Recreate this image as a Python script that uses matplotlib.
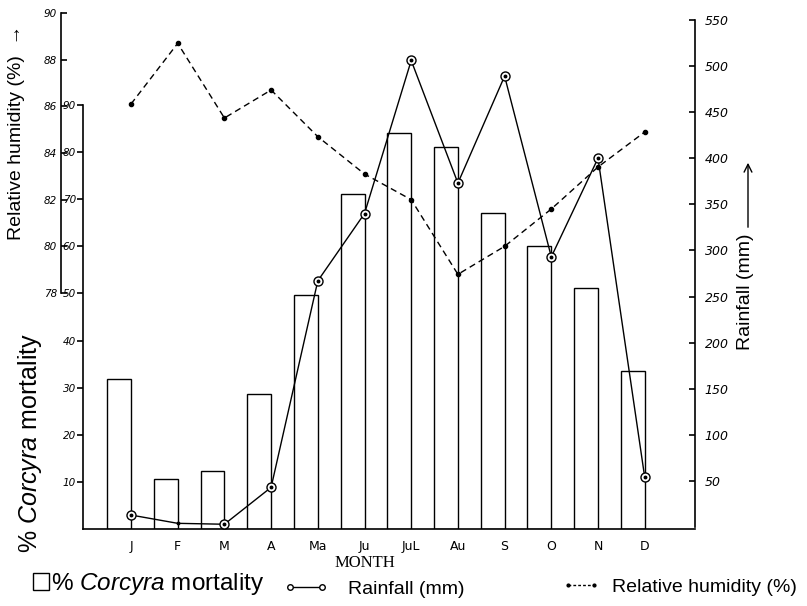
import matplotlib
matplotlib.use('Agg')
import matplotlib.pyplot as plt
from matplotlib.patches import Patch
from matplotlib.lines import Line2D
import numpy as np

# ---------------- data ----------------
months = ['J', 'F', 'M', 'A', 'Ma', 'Ju', 'JuL', 'Au', 'S', 'O', 'N', 'D']
mortality = [31.8, 10.6, 12.3, 28.7, 49.7, 71.1, 84.1, 81.1, 67.1, 60.1, 51.2, 33.5]
rainfall = [13, 4, 3, 43, 267, 340, 506, 373, 489, 293, 400, 54]
humidity = [86.1, 88.7, 85.5, 86.7, 84.7, 83.1, 82.0, 78.8, 80.0, 81.6, 83.4, 84.9]

mort_ticks = [10, 20, 30, 40, 50, 60, 70, 80, 90]
rain_ticks = [50, 100, 150, 200, 250, 300, 350, 400, 450, 500, 550]
rh_ticks = [78, 80, 82, 84, 86, 88, 90]

plt.rcParams['font.family'] = ['Liberation Sans', 'DejaVu Sans']
plt.rcParams['mathtext.fontset'] = 'custom'
plt.rcParams['mathtext.rm'] = 'Liberation Sans'
plt.rcParams['mathtext.it'] = 'Liberation Sans:italic'

W, H = 807, 606
fig = plt.figure(figsize=(W / 100, H / 100), dpi=100)


def fx(px):
    return px / W


def fy(py):
    return 1 - py / H


hand = dict(family='DejaVu Sans', style='italic')

# main axes : mortality bars
ax = fig.add_axes([fx(83), fy(529), (695 - 83) / W, (529 - 13) / H])
x = np.arange(len(months))
ax.bar(x, mortality, width=-0.51, align='edge', facecolor='white',
       edgecolor='black', linewidth=1.0, zorder=2)
ax.set_xlim(-1.028, 12.077)
ax.set_ylim(0, 109.53)
for s in ['top', 'right']:
    ax.spines[s].set_visible(False)
ax.spines['left'].set_bounds(0, 90)
ax.spines['left'].set_linewidth(1.2)
ax.spines['bottom'].set_linewidth(1.2)
ax.set_yticks(mort_ticks)
ax.set_yticklabels([str(v) for v in mort_ticks], fontsize=7.5, **hand)
ax.tick_params(axis='y', direction='out', length=4, width=1.2, pad=1)
ax.set_xticks(x)
ax.set_xticklabels(months, fontsize=9, family='DejaVu Sans')
ax.tick_params(axis='x', length=0, pad=8)

# rainfall axis (right)
ax_r = ax.twinx()
ax_r.set_ylim(-2.15, 557.5)
for s in ['top', 'left', 'bottom']:
    ax_r.spines[s].set_visible(False)
ax_r.spines['right'].set_bounds(0, 550)
ax_r.spines['right'].set_linewidth(1.2)
ax_r.set_yticks(rain_ticks)
ax_r.set_yticklabels([str(v) for v in rain_ticks], fontsize=9, **hand)
ax_r.tick_params(axis='y', direction='in', length=4, width=1.2, pad=7)
ax_r.plot(x, rainfall, '-', color='black', lw=1.0, zorder=3)
ax_r.plot(x, rainfall, linestyle='none', marker='o', ms=6.5, mfc='white',
          mec='black', mew=1.0, markevery=[0, 2, 3, 4, 5, 6, 7, 8, 9, 10, 11],
          zorder=4)
ax_r.plot(x, rainfall, linestyle='none', marker='o', ms=1.8, color='black',
          zorder=5)

# relative humidity axis (outer left)
ax_h = ax.twinx()
ax_h.set_ylim(67.886, 90)
for s in ['top', 'right', 'bottom']:
    ax_h.spines[s].set_visible(False)
ax_h.spines['left'].set_visible(True)
ax_h.spines['left'].set_position(('axes', -22 / 612))
ax_h.spines['left'].set_bounds(78, 90)
ax_h.spines['left'].set_linewidth(1.2)
ax_h.yaxis.tick_left()
ax_h.set_yticks(rh_ticks)
ax_h.set_yticklabels([str(v) for v in rh_ticks], fontsize=7.5, **hand)
ax_h.tick_params(axis='y', direction='in', length=4, width=1.2, pad=3)
ax_h.plot(x, humidity, linestyle=(0, (4.5, 3)), color='black', lw=1.0,
          marker='o', ms=3, zorder=3)

# axis titles
fig.text(fx(17), fy(132), 'Relative humidity (%)  \u2192', rotation=90,
         ha='center', va='center', fontsize=14)
fig.text(fx(30), fy(443), '% $\\mathit{Corcyra}$ mortality', rotation=90,
         ha='center', va='center', fontsize=18)
fig.text(fx(745), fy(292), 'Rainfall (mm)', rotation=90,
         ha='center', va='center', fontsize=14)
ax.annotate('', xy=(748, H - 160), xytext=(748, H - 230),
            xycoords='figure pixels', textcoords='figure pixels',
            arrowprops=dict(arrowstyle='->', lw=1.0, color='black',
                            mutation_scale=14))
fig.text(fx(365), fy(563), 'MONTH', ha='center', va='center', fontsize=12,
         family='Liberation Serif')

# legend
fs = 14
em = fs * 100 / 72.0
fs1 = 17.5
em1 = fs1 * 100 / 72.0
h1 = Patch(facecolor='white', edgecolor='black', linewidth=1.0)
leg1 = fig.legend([h1], ['% $\\mathit{Corcyra}$ mortality'], loc='center left',
                  bbox_to_anchor=(fx(33), fy(584)), frameon=False, fontsize=fs1,
                  borderpad=0, borderaxespad=0, handlelength=16 / em1,
                  handleheight=16 / em1, handletextpad=2 / em1)
h2 = Line2D([], [], color='black', lw=1.0, marker='o', ms=4, mfc='white',
            mec='black')
leg2 = fig.legend([h2], ['Rainfall (mm)'], loc='center left',
                  bbox_to_anchor=(fx(284), fy(589)), frameon=False, fontsize=fs,
                  borderpad=0, borderaxespad=0, handlelength=44 / em,
                  handletextpad=20 / em, numpoints=2)
h3 = Line2D([], [], color='black', lw=1.0, linestyle=(0, (2, 1.5)),
            marker='o', ms=2)
leg3 = fig.legend([h3], ['Relative humidity (%)'], loc='center left',
                  bbox_to_anchor=(fx(562), fy(587)), frameon=False, fontsize=fs,
                  borderpad=0, borderaxespad=0, handlelength=38 / em,
                  handletextpad=12 / em, numpoints=2)

fig.savefig('out.png', dpi=100)
